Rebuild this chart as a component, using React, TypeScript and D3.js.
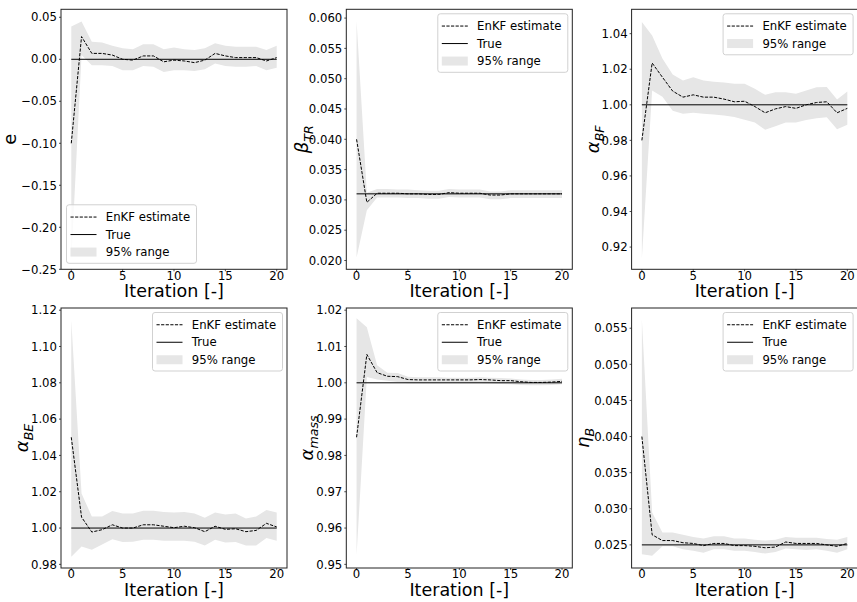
import React from 'react';
import * as d3 from 'd3';

const iterations = [0, 1, 2, 3, 4, 5, 6, 7, 8, 9, 10, 11, 12, 13, 14, 15, 16, 17, 18, 19, 20];
const xTicks = [0, 5, 10, 15, 20];

// Panel 1: e
const eEst = [-0.100, 0.027, 0.007, 0.007, 0.005, 0.000, -0.001, 0.004, 0.004, -0.003, -0.001, -0.002, -0.004, -0.001, 0.007, 0.004, 0.002, 0.002, 0.002, -0.002, 0.002];
const eUpper = [0.039, 0.045, 0.021, 0.020, 0.016, 0.013, 0.012, 0.018, 0.018, 0.012, 0.014, 0.012, 0.011, 0.013, 0.019, 0.016, 0.015, 0.015, 0.015, 0.011, 0.016];
const eLower = [-0.240, 0.005, -0.007, -0.007, -0.008, -0.013, -0.013, -0.008, -0.009, -0.015, -0.013, -0.013, -0.014, -0.012, -0.005, -0.008, -0.009, -0.009, -0.008, -0.013, -0.010];
const eTrue = 0.0;
const eTicks = [-0.25, -0.2, -0.15, -0.1, -0.05, 0.0, 0.05];

// Panel 2: beta_TR
const bEst = [0.0400, 0.0296, 0.0311, 0.0311, 0.0311, 0.0310, 0.0310, 0.0309, 0.0309, 0.0312, 0.0311, 0.0311, 0.0311, 0.0308, 0.0308, 0.0310, 0.0310, 0.0310, 0.0310, 0.0310, 0.0310];
const bUpper = [0.0595, 0.0312, 0.0318, 0.0318, 0.0317, 0.0317, 0.0316, 0.0315, 0.0315, 0.0318, 0.0317, 0.0317, 0.0317, 0.0314, 0.0314, 0.0316, 0.0316, 0.0316, 0.0316, 0.0316, 0.0316];
const bLower = [0.0205, 0.0283, 0.0304, 0.0304, 0.0304, 0.0303, 0.0303, 0.0302, 0.0302, 0.0305, 0.0304, 0.0304, 0.0304, 0.0301, 0.0301, 0.0303, 0.0303, 0.0303, 0.0303, 0.0303, 0.0303];
const bTrue = 0.031;
const bTicks = [0.02, 0.025, 0.03, 0.035, 0.04, 0.045, 0.05, 0.055, 0.06];

// Panel 3: alpha_BF
const bfEst = [0.980, 1.0235, 1.0155, 1.0077, 1.0043, 1.0056, 1.0043, 1.0043, 1.0032, 1.0017, 1.0020, 0.9990, 0.9955, 0.9977, 0.9990, 0.9980, 1.0000, 1.0013, 1.0017, 0.9955, 0.9980];
const bfUpper = [1.0465, 1.039, 1.026, 1.017, 1.0137, 1.0155, 1.0137, 1.013, 1.0125, 1.0118, 1.0118, 1.009, 1.0056, 1.007, 1.007, 1.0062, 1.008, 1.0098, 1.010, 1.003, 1.0075];
const bfLower = [0.9136, 1.008, 1.0045, 0.9966, 0.995, 0.9955, 0.995, 0.9945, 0.994, 0.9931, 0.9916, 0.990, 0.986, 0.988, 0.990, 0.990, 0.9915, 0.9925, 0.993, 0.9862, 0.9888];
const bfTrue = 1.0;
const bfTicks = [0.92, 0.94, 0.96, 0.98, 1.0, 1.02, 1.04];

// Panel 4: alpha_BE
const beEst = [1.050, 1.006, 0.9978, 0.9991, 1.0018, 1.0000, 1.0000, 1.0018, 1.0018, 1.0010, 1.0002, 1.0010, 1.0002, 0.9980, 1.0010, 0.9993, 0.9996, 0.9980, 0.9987, 1.0026, 1.0006];
const beUpper = [1.1145, 1.019, 1.0064, 1.0064, 1.0094, 1.008, 1.008, 1.0096, 1.0096, 1.0088, 1.0085, 1.0088, 1.008, 1.0057, 1.0085, 1.0075, 1.008, 1.0052, 1.0064, 1.010, 1.0085];
const beLower = [0.9842, 0.9899, 0.988, 0.991, 0.9938, 0.9923, 0.9925, 0.9935, 0.9935, 0.993, 0.993, 0.993, 0.9925, 0.9904, 0.9935, 0.992, 0.9923, 0.9904, 0.9904, 0.9945, 0.993];
const beTrue = 1.0;
const beTicks = [0.98, 1.0, 1.02, 1.04, 1.06, 1.08, 1.1, 1.12];

// Panel 5: alpha_mass
const mEst = [0.985, 1.0078, 1.0028, 1.0018, 1.0017, 1.0009, 1.0008, 1.0008, 1.0008, 1.0008, 1.0008, 1.0008, 1.0009, 1.0008, 1.0006, 1.0006, 1.0003, 1.0001, 1.0001, 1.0002, 1.0004];
const mUpper = [1.0178, 1.0153, 1.0048, 1.0028, 1.0027, 1.0017, 1.0015, 1.0015, 1.0015, 1.0014, 1.0014, 1.0014, 1.0015, 1.0014, 1.0013, 1.0012, 1.0009, 1.0008, 1.0008, 1.0009, 1.0011];
const mLower = [0.9525, 1.0016, 1.0009, 1.0006, 1.0002, 0.9999, 0.9999, 0.9999, 0.9999, 0.9999, 0.9999, 0.9999, 0.9999, 0.9998, 0.9997, 0.9996, 0.9994, 0.9993, 0.9993, 0.9994, 0.9996];
const mTrue = 1.0;
const mTicks = [0.95, 0.96, 0.97, 0.98, 0.99, 1.0, 1.01, 1.02];

// Panel 6: eta_B
const nEst = [0.0400, 0.0264, 0.0256, 0.0256, 0.0253, 0.0252, 0.0249, 0.0252, 0.0252, 0.0249, 0.0249, 0.0248, 0.0246, 0.0247, 0.0254, 0.0252, 0.0252, 0.0252, 0.0250, 0.0248, 0.0252];
const nUpper = [0.0562, 0.0295, 0.0267, 0.0267, 0.0264, 0.0261, 0.0259, 0.0262, 0.0262, 0.0259, 0.0259, 0.0257, 0.0256, 0.0257, 0.0261, 0.0260, 0.0260, 0.0260, 0.0258, 0.0257, 0.0261];
const nLower = [0.0237, 0.0235, 0.0248, 0.0248, 0.0244, 0.0242, 0.0239, 0.0244, 0.0244, 0.0242, 0.0242, 0.0240, 0.0238, 0.0240, 0.0245, 0.0244, 0.0243, 0.0244, 0.0242, 0.0239, 0.0244];
const nTrue = 0.025;
const nTicks = [0.025, 0.03, 0.035, 0.04, 0.045, 0.05, 0.055];

const legendLabels = ['EnKF estimate', 'True', '95% range'];

const FONT = 'DejaVu Sans, sans-serif';
const W = 857;
const H = 602;
const AX_W = 226;
const AX_H = 260;
const LEFTS = [61, 346.3, 631.6];
const TOPS = [9.3, 308];

type PanelCfg = {
  main: string;
  italicMain: boolean;
  sub?: string;
  est: number[];
  upper: number[];
  lower: number[];
  truth: number;
  domain: [number, number];
  ticks: number[];
  fmt: string;
  legendLoc: 'lower left' | 'upper right';
  legendTrue: boolean;
  col: number;
  row: number;
  labelOff: number;
};

const panels: PanelCfg[] = [
  { main: 'e', italicMain: false, est: eEst, upper: eUpper, lower: eLower, truth: eTrue, domain: [-0.25, 0.0595], ticks: eTicks, fmt: '.2f', legendLoc: 'lower left', legendTrue: true, col: 0, row: 0, labelOff: -45 },
  { main: 'β', italicMain: true, sub: 'TR', est: bEst, upper: bUpper, lower: bLower, truth: bTrue, domain: [0.01855, 0.06145], ticks: bTicks, fmt: '.3f', legendLoc: 'upper right', legendTrue: true, col: 1, row: 0, labelOff: -38 },
  { main: 'α', italicMain: true, sub: 'BF', est: bfEst, upper: bfUpper, lower: bfLower, truth: bfTrue, domain: [0.9075, 1.0537], ticks: bfTicks, fmt: '.2f', legendLoc: 'upper right', legendTrue: false, col: 2, row: 0, labelOff: -32.5 },
  { main: 'α', italicMain: true, sub: 'BE', est: beEst, upper: beUpper, lower: beLower, truth: beTrue, domain: [0.978, 1.1212], ticks: beTicks, fmt: '.2f', legendLoc: 'upper right', legendTrue: true, col: 0, row: 1, labelOff: -33 },
  { main: 'α', italicMain: true, sub: 'mass', est: mEst, upper: mUpper, lower: mLower, truth: mTrue, domain: [0.949, 1.0206], ticks: mTicks, fmt: '.2f', legendLoc: 'upper right', legendTrue: true, col: 1, row: 1, labelOff: -33 },
  { main: 'η', italicMain: true, sub: 'B', est: nEst, upper: nUpper, lower: nLower, truth: nTrue, domain: [0.0218, 0.0578], ticks: nTicks, fmt: '.3f', legendLoc: 'upper right', legendTrue: true, col: 2, row: 1, labelOff: -42.5 },
];

const BAND = '#e6e6e6';
const DASH = '3.2,1.4';

function Legend({ cfg, left, top }: { cfg: PanelCfg; left: number; top: number }) {
  const entries = cfg.legendTrue ? [0, 1, 2] : [0, 2];
  const bw = 130;
  const rowH = 17.5;
  const bh = 5 + entries.length * rowH + 1;
  const inset = 4.5;
  let bx: number, by: number;
  if (cfg.legendLoc === 'lower left') {
    bx = left + inset + 1;
    by = top + AX_H - inset - 1.5 - bh;
  } else {
    bx = left + AX_W - inset - bw;
    by = top + inset;
  }
  return (
    <g>
      <rect x={bx} y={by} width={bw} height={bh} rx={2.5} ry={2.5} fill="#ffffff" fillOpacity={0.8} stroke="#cccccc" strokeWidth={0.9} />
      {entries.map((e, i) => {
        const cy = by + 3.5 + rowH / 2 + i * rowH;
        const hx0 = bx + 4;
        const hx1 = bx + 30;
        return (
          <g key={e}>
            {e === 0 && <line x1={hx0} x2={hx1} y1={cy} y2={cy} stroke="#000" strokeWidth={1} strokeDasharray={DASH} />}
            {e === 1 && <line x1={hx0} x2={hx1} y1={cy} y2={cy} stroke="#000" strokeWidth={1} />}
            {e === 2 && <rect x={hx0} y={cy - 4.5} width={hx1 - hx0} height={9} fill={BAND} />}
            <text x={bx + 39.3} y={cy + 4.2} fontSize={11.7} fontFamily={FONT} fill="#000">{legendLabels[e]}</text>
          </g>
        );
      })}
    </g>
  );
}

function Panel({ cfg }: { cfg: PanelCfg }) {
  const left = LEFTS[cfg.col];
  const top = TOPS[cfg.row];
  const x = d3.scaleLinear().domain([-1, 21]).range([left, left + AX_W]);
  const y = d3.scaleLinear().domain(cfg.domain).range([top + AX_H, top]);
  const f = d3.format(cfg.fmt);
  const area = d3.area<number>()
    .x((d) => x(d))
    .y0((d, i) => y(cfg.lower[i]))
    .y1((d, i) => y(cfg.upper[i]));
  const estLine = d3.line<number>().x((d) => x(d)).y((d, i) => y(cfg.est[i]));
  const xTickOff = 10.3;
  const xLabelOff = 28;
  const clipId = `clip-${cfg.col}-${cfg.row}`;
  return (
    <g>
      <defs>
        <clipPath id={clipId}>
          <rect x={left} y={top} width={AX_W} height={AX_H} />
        </clipPath>
      </defs>
      <g clipPath={`url(#${clipId})`}>
        <path d={area(iterations) || ''} fill={BAND} stroke="none" />
        <path d={estLine(iterations) || ''} fill="none" stroke="#000" strokeWidth={1} strokeDasharray={DASH} />
        <line x1={x(iterations[0])} x2={x(iterations[iterations.length - 1])} y1={y(cfg.truth)} y2={y(cfg.truth)} stroke="#000" strokeWidth={1} />
      </g>
      <rect x={left} y={top} width={AX_W} height={AX_H} fill="none" stroke="#222" strokeWidth={1} />
      {cfg.ticks.map((t) => (
        <g key={t}>
          <line x1={left - 2} x2={left} y1={y(t)} y2={y(t)} stroke="#222" strokeWidth={0.8} />
          <text x={left - 4} y={y(t)} dy="0.36em" textAnchor="end" fontSize={11.7} fontFamily={FONT} fill="#000">{f(t)}</text>
        </g>
      ))}
      {xTicks.map((t) => (
        <g key={t}>
          <line x1={x(t)} x2={x(t)} y1={top + AX_H} y2={top + AX_H + 2} stroke="#222" strokeWidth={0.8} />
          <text x={x(t)} y={top + AX_H + xTickOff} textAnchor="middle" fontSize={11.7} fontFamily={FONT} fill="#000">{t}</text>
        </g>
      ))}
      <text x={left + AX_W / 2} y={top + AX_H + xLabelOff} textAnchor="middle" fontSize={17.5} fontFamily={FONT} fill="#000">Iteration [-]</text>
      <text transform={`translate(${left + cfg.labelOff},${top + AX_H / 2}) rotate(-90)`} textAnchor="middle" fontSize={18} fontFamily={FONT} fill="#000">
        <tspan fontStyle={cfg.italicMain ? 'italic' : 'normal'}>{cfg.main}</tspan>
        {cfg.sub && <tspan fontStyle="italic" fontSize={12.6} dy={4.5}>{cfg.sub}</tspan>}
      </text>
      <Legend cfg={cfg} left={left} top={top} />
    </g>
  );
}

export default function App() {
  return (
    <svg width={W} height={H} viewBox={`0 0 ${W} ${H}`} style={{ position: 'absolute', left: 0, top: 0, background: '#fff' }}>
      <rect x={0} y={0} width={W} height={H} fill="#fff" />
      {panels.map((p, i) => (
        <Panel key={i} cfg={p} />
      ))}
    </svg>
  );
}
